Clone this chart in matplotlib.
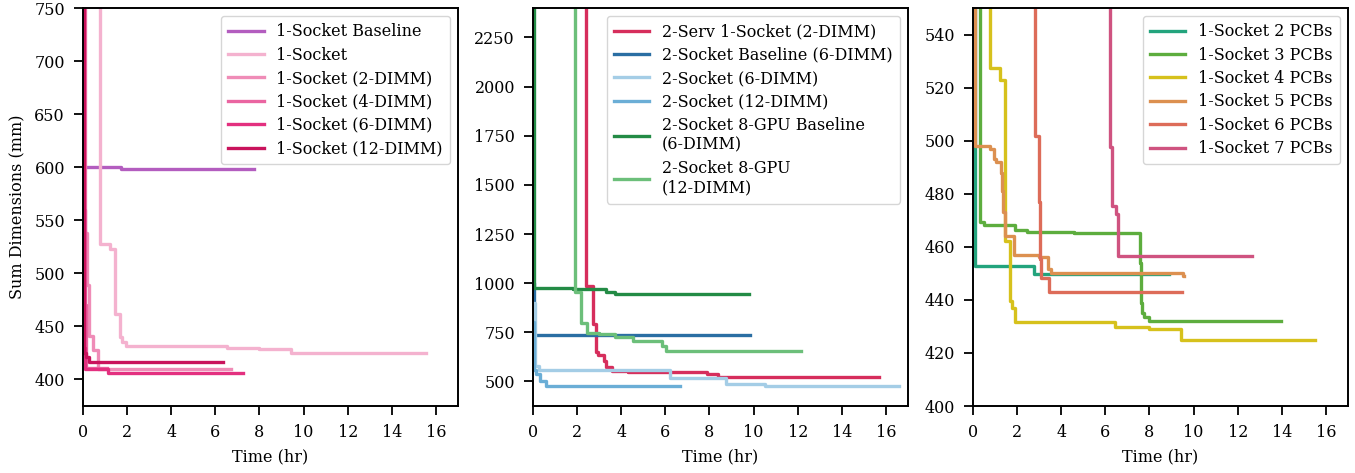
import matplotlib
matplotlib.use("Agg")
import matplotlib.pyplot as plt

plt.rcParams['font.family'] = 'serif'
plt.rcParams['font.serif'] = ['DejaVu Serif']
plt.rcParams['font.size'] = 11.5

# ---- panel 1: 1-socket variants ----
base1_t = [0.05, 1.55, 1.7, 7.75]
base1_v = [600.5, 600, 598.5, 598.5]
sock1_t = [0, 0.78, 1.22, 1.47, 1.67, 1.75, 1.95, 6.53, 7.97, 9.45, 15.55]
sock1_v = [1000, 528, 523, 462, 440, 435, 431.5, 429.5, 428.5, 424.5, 424.5]
dimm2_t = [0, 0.1, 0.2, 0.25, 0.47, 0.7, 6.7]
dimm2_v = [1000, 538, 489, 441, 428, 409.5, 409.5]
dimm4_t = [0, 0.05, 0.1, 0.15, 1.1]
dimm4_v = [1000, 560, 470, 411, 411]
dimm6_t = [0, 0.03, 0.1, 1.15, 7.27]
dimm6_v = [1000, 430, 410, 406, 406]
dimm12_t = [0, 0.03, 0.15, 0.25, 6.35]
dimm12_v = [1000, 425, 421, 416, 416]

# ---- panel 2: 2-socket / multi-server ----
serv_t = [0, 2.42, 2.72, 2.85, 2.95, 3.2, 3.3, 3.6, 4.3, 7.9, 8.4, 15.7]
serv_v = [3000, 985, 790, 648, 634, 605, 571, 554, 546, 537, 524, 524]
base2_t = [0, 0.03, 9.82]
base2_v = [1000, 736, 736]
s6_t = [0, 0.1, 0.25, 6.2, 8.77, 10.5, 16.6]
s6_v = [900, 580, 559, 515, 488, 478, 478]
s12_t = [0, 0.03, 0.12, 0.3, 0.58, 6.65]
s12_v = [800, 560, 537, 503, 478, 478]
gpubase_t = [0, 0.05, 1.82, 3.33, 3.7, 9.77]
gpubase_v = [3000, 975, 968, 957, 944, 944]
gpu12_t = [0, 1.92, 2.18, 2.45, 3.0, 3.7, 4.52, 5.85, 6.05, 12.17]
gpu12_v = [3000, 954, 795, 748, 741, 724, 707, 680, 656, 656]

# ---- panel 3: number of PCBs ----
pcb2_t = [0, 0.08, 2.75, 8.87]
pcb2_v = [560, 452.7, 449.7, 449.7]
pcb3_t = [0, 0.33, 0.48, 1.92, 2.45, 4.56, 7.58, 7.62, 7.66, 7.75, 7.96, 13.96]
pcb3_v = [600, 469.2, 468.2, 466.3, 465.4, 465.2, 454, 439, 435.2, 433.5, 432, 432]
pcb4_t = [0, 0.79, 1.24, 1.44, 1.69, 1.78, 1.89, 6.45, 7.96, 9.44, 15.49]
pcb4_v = [600, 527.4, 523, 462.3, 439.6, 437.1, 431.7, 429.6, 428.9, 424.9, 424.9]
pcb5_t = [0, 0.1, 0.79, 0.95, 1.02, 1.25, 1.32, 1.38, 1.46, 1.87, 2.98, 3.38, 3.55, 9.5, 9.56]
pcb5_v = [600, 498, 497, 493, 492, 488, 481, 473, 464, 457, 456, 451.6, 450.3, 449, 449]
pcb6_t = [0, 2.83, 2.98, 3.05, 3.1, 3.43, 9.47]
pcb6_v = [600, 501.9, 476.7, 455.3, 448.4, 442.8, 442.8]
pcb7_t = [0, 6.22, 6.3, 6.48, 6.56, 12.64]
pcb7_v = [600, 497.5, 475.5, 472.3, 456.6, 456.6]

panel1 = [
    (base1_t, base1_v, "1-Socket Baseline", "#b35dbf"),
    (sock1_t, sock1_v, "1-Socket", "#f4b2cf"),
    (dimm2_t, dimm2_v, "1-Socket (2-DIMM)", "#ef8cb7"),
    (dimm4_t, dimm4_v, "1-Socket (4-DIMM)", "#ea65a1"),
    (dimm6_t, dimm6_v, "1-Socket (6-DIMM)", "#e3307f"),
    (dimm12_t, dimm12_v, "1-Socket (12-DIMM)", "#c9135c"),
]
panel2 = [
    (serv_t, serv_v, "2-Serv 1-Socket (2-DIMM)", "#d62e5c"),
    (base2_t, base2_v, "2-Socket Baseline (6-DIMM)", "#2a6ea3"),
    (s6_t, s6_v, "2-Socket (6-DIMM)", "#a4cde6"),
    (s12_t, s12_v, "2-Socket (12-DIMM)", "#6baed6"),
    (gpubase_t, gpubase_v, "2-Socket 8-GPU Baseline\n(6-DIMM)", "#238b45"),
    (gpu12_t, gpu12_v, "2-Socket 8-GPU\n(12-DIMM)", "#6cbf7a"),
]
panel3 = [
    (pcb2_t, pcb2_v, "1-Socket 2 PCBs", "#23a47d"),
    (pcb3_t, pcb3_v, "1-Socket 3 PCBs", "#5dad3e"),
    (pcb4_t, pcb4_v, "1-Socket 4 PCBs", "#d6c11c"),
    (pcb5_t, pcb5_v, "1-Socket 5 PCBs", "#dc9050"),
    (pcb6_t, pcb6_v, "1-Socket 6 PCBs", "#dd6c59"),
    (pcb7_t, pcb7_v, "1-Socket 7 PCBs", "#cf5380"),
]

fig = plt.figure(figsize=(13.55, 4.73), dpi=100)
W, H = 1355, 473
boxes = [(83, 375), (533, 375), (973, 375)]
ylims = [(375, 750), (375, 2400), (400, 550)]
yticks = [range(400, 751, 50), range(500, 2251, 250), range(400, 541, 20)]

for i, series in enumerate([panel1, panel2, panel3]):
    left, width = boxes[i]
    ax = fig.add_axes([left / W, 1 - 406 / H, width / W, 398 / H])
    for t, v, label, color in series:
        ax.step(t, v, where='post', color=color, lw=2.4, label=label)
    ax.set_xlim(0, 17)
    ax.set_ylim(*ylims[i])
    ax.set_xticks(range(0, 17, 2))
    ax.set_yticks(list(yticks[i]))
    ax.set_xlabel("Time (hr)", labelpad=5)
    for s in ax.spines.values():
        s.set_linewidth(1.4)
    ax.tick_params(length=6.5, width=1.3, labelsize=11.5, pad=6.5)
    ax.legend(loc='upper right', handlelength=2.2, fontsize=11.5,
              labelspacing=0.4, borderpad=0.45)
    if i == 0:
        ax.set_ylabel("Sum Dimensions (mm)", labelpad=6)

fig.savefig("out.png", dpi=100)
